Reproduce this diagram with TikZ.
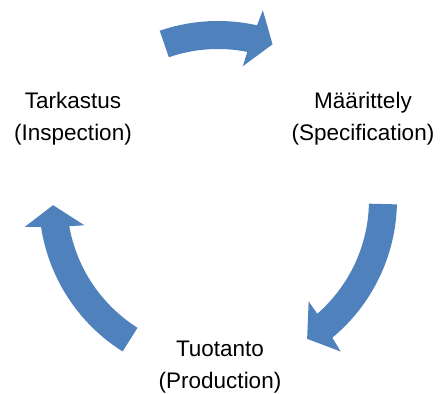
\documentclass[tikz,border=0pt]{standalone}
\usepackage{fontspec}
\setmainfont{Liberation Sans}
\definecolor{cycleblue}{HTML}{4F81BD}
% Curved block arrow on the cycle circle, running clockwise.
% #1 tail angle, #2 angle of the head base, #3 tip angle
\newcommand{\cyclearrow}[3]{%
  \fill[arrowfill]
    ([shift={(C)}]#1:179) arc[start angle=#1, end angle={#2-0.7}, radius=179]
    -- ([shift={(C)}]{#2-1.4}:195)
    -- ([shift={(C)}]#3:165)
    -- ([shift={(C)}]{#2+1.4}:136)
    -- ([shift={(C)}]{#2+0.7}:151)
    arc[start angle={#2+0.7}, end angle=#1, radius=151]
    -- cycle;}
\begin{document}
\begin{tikzpicture}[x=1pt,y=1pt,
  arrowfill/.style={fill=cycleblue},
  stage/.style={inner sep=0pt, align=center, text=black,
    font=\fontsize{22.5}{32}\selectfont}]
\useasboundingbox (0,0) rectangle (440,394);
\coordinate (C) at (218,194);
% arrows between the three stages
\cyclearrow{109}{78.1}{70.7}
\cyclearrow{-1.4}{-49.6}{-57.3}
\cyclearrow{237.8}{189.3}{181.8}
% stage labels
\node[stage] (insp) at (73,275.5) {Tarkastus\\(Inspection)};
\node[stage] (spec) at (363,275.5) {Määrittely\\(Specification)};
\node[stage] (prod) at (220,26.5) {Tuotanto\\(Production)};
\end{tikzpicture}
\end{document}
